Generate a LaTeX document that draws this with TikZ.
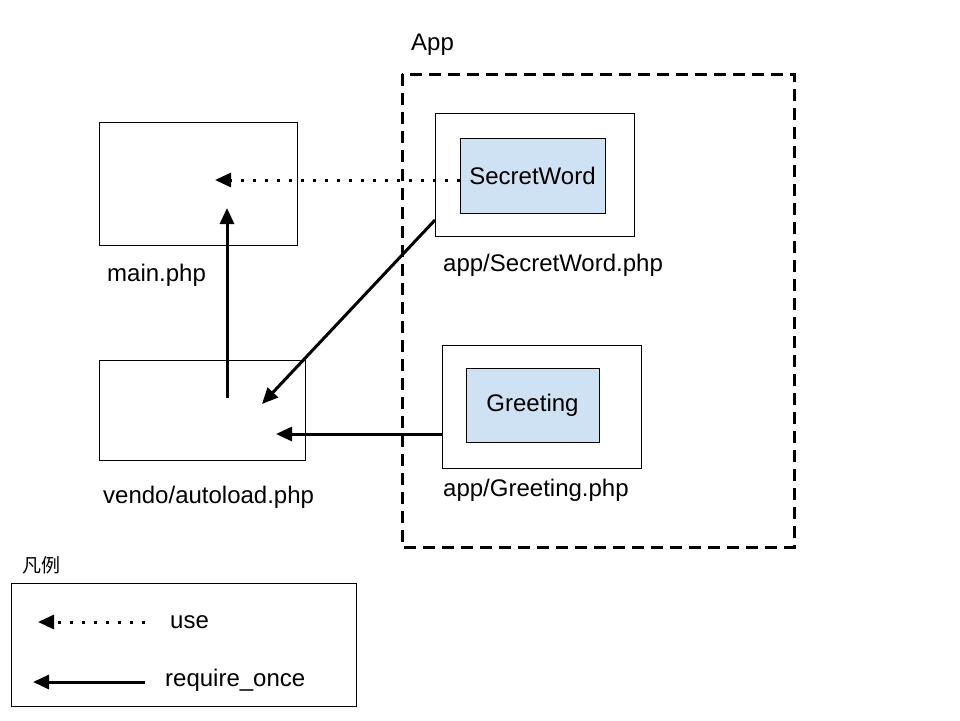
\documentclass[tikz,border=0pt]{standalone}
\usepackage{fontspec}
\setmainfont{Liberation Sans}
\newfontfamily\cjk{Noto Sans CJK SC}
\usetikzlibrary{arrows.meta}
\definecolor{lb}{HTML}{CFE2F3}
\begin{document}
\begin{tikzpicture}[x=1pt,y=-1pt,
  box/.style={draw=black,line width=0.8pt},
  inner/.style={draw=black,line width=0.8pt,fill=lb},
  lbl/.style={anchor=west,inner sep=0pt,font=\fontsize{24}{28}\selectfont},
  req/.style={line width=3pt,-{Triangle[length=16pt,width=14pt]}},
  use/.style={line width=3pt,dash pattern=on 3pt off 9pt,-{Triangle[length=16pt,width=14pt]}}]
\useasboundingbox (0,0) rectangle (960,720);
\draw[line width=3pt,dash pattern=on 12pt off 7pt] (402,74) rectangle (794,547);
\node[lbl] (applbl) at (411,45) {App};
\node[box,minimum width=198pt,minimum height=123pt,inner sep=0pt] (main) at (198,183.5) {};
\node[lbl] (mainlbl) at (107,275) {main.php};
\node[box,minimum width=206pt,minimum height=100pt,inner sep=0pt] (auto) at (202,410) {};
\node[lbl] (autolbl) at (103,497) {vendo/autoload.php};
\node[box,minimum width=199pt,minimum height=123pt,inner sep=0pt] (swo) at (534.5,174.5) {};
\node[inner,minimum width=145pt,minimum height=75pt,inner sep=0pt,font=\fontsize{24}{28}\selectfont] (sw) at (532.5,175.5) {SecretWord};
\node[lbl] (swlbl) at (443,265) {app/SecretWord.php};
\node[box,minimum width=199pt,minimum height=123pt,inner sep=0pt] (gro) at (541.5,406.5) {};
\node[inner,minimum width=133pt,minimum height=74pt,inner sep=0pt,font=\fontsize{24}{28}\selectfont] (gr) at (532.5,405) {Greeting};
\node[lbl] (grlbl) at (443,490) {app/Greeting.php};
\coordinate (mainin) at (215,180);
\coordinate (autoout) at (227,398);
\coordinate (mainbot) at (227,208);
\coordinate (autoin1) at (262,404);
\coordinate (autoin2) at (276,434);
\coordinate (swsrc) at (435,220);
\draw[use] (sw.west |- mainin) -- (mainin);
\draw[req] (autoout) -- (mainbot);
\draw[req] (swsrc) -- (autoin1);
\draw[req] (gro.west |- autoin2) -- (autoin2);
\node[lbl,font=\cjk\fontsize{19}{22}\selectfont] (leg) at (22,565) {凡例};
\node[box,minimum width=345pt,minimum height=123pt,inner sep=0pt] (legbox) at (183.5,644.5) {};
\coordinate (u1) at (145,622); \coordinate (u2) at (38,622);
\coordinate (r1) at (145,682); \coordinate (r2) at (33,682);
\draw[use] (u1) -- (u2);
\draw[req] (r1) -- (r2);
\node[lbl] (uselbl) at (170,622) {use};
\node[lbl] (reqlbl) at (165,680) {require\_once};
\end{tikzpicture}
\end{document}
